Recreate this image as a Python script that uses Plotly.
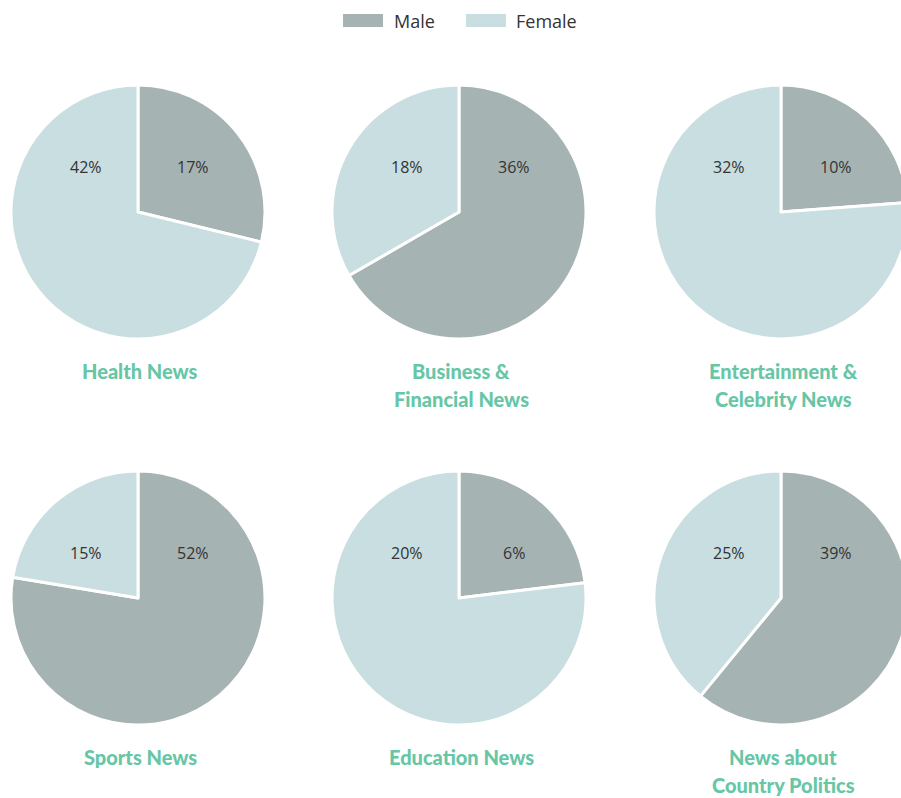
import plotly.graph_objects as go

categories = ["Health News", "Business &<br>Financial News", "Entertainment &<br>Celebrity News",
              "Sports News", "Education News", "News about<br>Country Politics"]
male = [17, 36, 10, 52, 6, 39]
female = [42, 18, 32, 15, 20, 25]
series = ["Male", "Female"]
colors = ["#a6b3b3", "#c9dee0"]

W, H = 910, 798
R = 127
cx = [138, 459, 781]
cy = [212, 598]

fig = go.Figure()
ann = []
for i, cat in enumerate(categories):
    col, row = i % 3, i // 3
    x0, x1 = (cx[col] - R) / W, (cx[col] + R) / W
    y0, y1 = 1 - (cy[row] + R) / H, 1 - (cy[row] - R) / H
    fig.add_trace(go.Pie(
        labels=series, values=[male[i], female[i]],
        marker=dict(colors=colors, line=dict(color="white", width=3)),
        sort=False, direction="clockwise", rotation=0,
        textinfo="none", hoverinfo="label+value", showlegend=False,
        domain=dict(x=[max(0, x0), min(1, x1)], y=[y0, y1]),
    ))
    for txt, dx in ((f"{male[i]}%", 55), (f"{female[i]}%", -52)):
        ann.append(dict(x=(cx[col] + dx) / W, y=1 - (cy[row] - 45) / H, text=txt,
                        showarrow=False, xref="paper", yref="paper",
                        xanchor="center", yanchor="middle",
                        font=dict(size=16, color="#333333", family="Open Sans")))
    for k, line in enumerate(cat.split("<br>")):
        ann.append(dict(x=(cx[col] + 2) / W, y=1 - (cy[row] + 159 + 28 * k) / H, text=line,
                        showarrow=False, xref="paper", yref="paper",
                        xanchor="center", yanchor="middle",
                        font=dict(size=20, color="#66c6a6", family="Lato", weight=900)))

# legend
shapes = []
leg = [(343, 392), (466, 514)]
for (sx, tx), name, c in zip(leg, series, colors):
    shapes.append(dict(type="rect", xref="paper", yref="paper",
                       x0=sx / W, x1=(sx + 40) / W, y0=1 - 27 / H, y1=1 - 14 / H,
                       fillcolor=c, line=dict(width=0)))
    ann.append(dict(x=tx / W, y=1 - 21 / H, text=name, showarrow=False,
                    xanchor="left", yanchor="middle",
                    xref="paper", yref="paper",
                    font=dict(size=18, color="#333333", family="Open Sans")))

fig.update_layout(width=W, height=H, margin=dict(l=0, r=0, t=0, b=0),
                  paper_bgcolor="white", plot_bgcolor="white",
                  annotations=ann, shapes=shapes)
fig.write_html("out.html", config={"displayModeBar": False},
               post_script="document.body.style.margin='0';document.body.style.overflow='hidden';")
